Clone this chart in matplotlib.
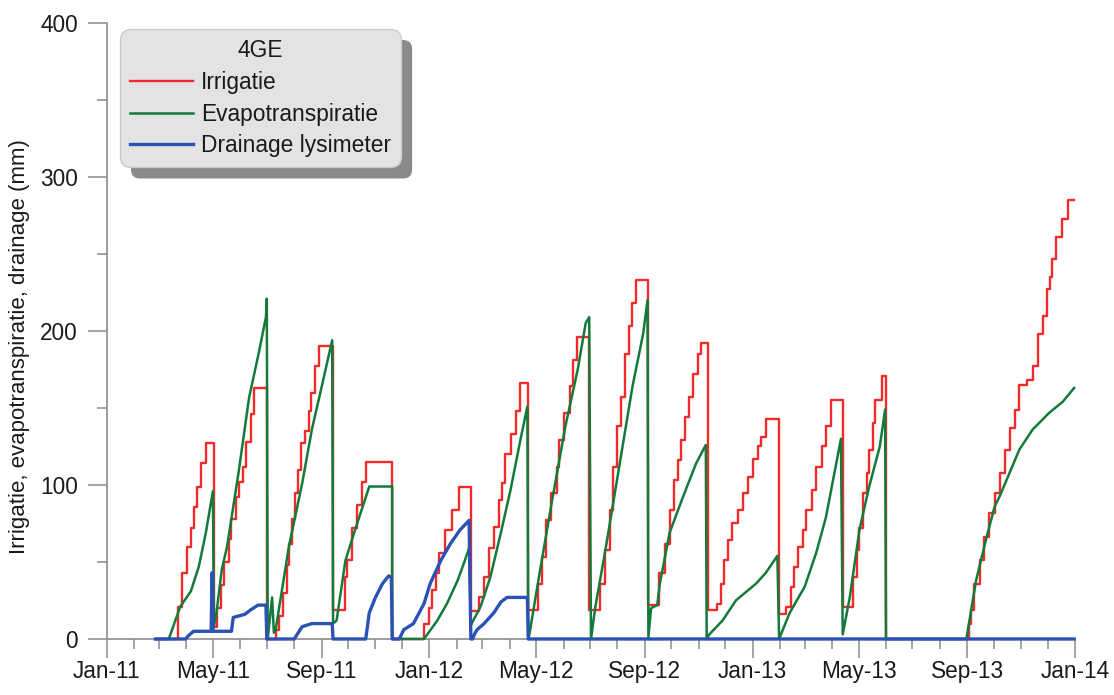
import pandas as pd
import matplotlib.pyplot as plt
import matplotlib.dates as mdates
from matplotlib.ticker import MultipleLocator
from matplotlib.patches import FancyBboxPatch
from matplotlib.transforms import IdentityTransform

plt.rcParams['font.family'] = ['Liberation Sans', 'DejaVu Sans']

# Cumulative irrigation (mm), applied in steps
irr_dates = [
    '2011-02-25', '2011-03-23', '2011-03-27', '2011-04-02', '2011-04-06', '2011-04-09', '2011-04-13', '2011-04-17', '2011-04-23',
    '2011-05-02', '2011-05-06', '2011-05-10', '2011-05-14', '2011-05-19', '2011-05-22', '2011-05-27', '2011-05-31', '2011-06-04', '2011-06-07', '2011-06-13', '2011-06-17', '2011-07-01',
    '2011-07-11', '2011-07-15', '2011-07-19', '2011-07-24', '2011-07-26', '2011-07-29', '2011-08-02', '2011-08-05', '2011-08-09', '2011-08-13', '2011-08-18', '2011-08-20', '2011-08-24', '2011-08-29',
    '2011-09-14', '2011-09-27', '2011-09-30', '2011-10-05', '2011-10-11', '2011-10-17', '2011-10-21', '2011-11-20',
    '2011-12-26', '2012-01-01', '2012-01-04', '2012-01-08', '2012-01-12', '2012-01-19', '2012-01-27', '2012-02-04',
    '2012-02-17', '2012-02-26', '2012-03-03', '2012-03-09', '2012-03-14', '2012-03-20', '2012-03-23', '2012-03-27', '2012-04-02', '2012-04-08', '2012-04-13',
    '2012-04-22', '2012-05-03', '2012-05-08', '2012-05-12', '2012-05-18', '2012-05-24', '2012-05-27', '2012-06-02', '2012-06-08', '2012-06-12', '2012-06-16',
    '2012-06-30', '2012-07-12', '2012-07-18', '2012-07-24', '2012-07-27', '2012-07-31', '2012-08-05', '2012-08-09', '2012-08-14', '2012-08-18', '2012-08-22',
    '2012-09-05', '2012-09-17', '2012-09-24', '2012-09-30', '2012-10-04', '2012-10-08', '2012-10-12', '2012-10-17', '2012-10-21', '2012-10-25', '2012-10-31', '2012-11-03',
    '2012-11-11', '2012-11-22', '2012-11-26', '2012-11-30', '2012-12-04', '2012-12-09', '2012-12-15', '2012-12-21', '2012-12-27', '2013-01-01', '2013-01-07', '2013-01-10', '2013-01-16',
    '2013-01-31', '2013-02-08', '2013-02-13', '2013-02-17', '2013-02-21', '2013-02-27', '2013-03-03', '2013-03-09', '2013-03-14', '2013-03-20', '2013-03-25', '2013-03-31',
    '2013-04-13', '2013-04-25', '2013-04-29', '2013-05-02', '2013-05-06', '2013-05-10', '2013-05-13', '2013-05-17', '2013-05-19', '2013-05-27', '2013-06-01',
    '2013-09-03', '2013-09-05', '2013-09-09', '2013-09-15', '2013-09-20', '2013-09-26', '2013-10-02', '2013-10-08', '2013-10-14', '2013-10-19', '2013-10-25', '2013-10-30',
    '2013-11-08', '2013-11-14', '2013-11-20', '2013-11-26', '2013-11-30', '2013-12-04', '2013-12-06', '2013-12-11', '2013-12-17', '2013-12-24', '2013-12-31',
]
irr_mm = [
    0, 21, 43, 60, 72, 86, 99, 114, 127,
    8, 20, 35, 50, 65, 78, 92, 102, 112, 128, 146, 163, 0,
    6, 15, 30, 48, 62, 78, 95, 110, 127, 135, 148, 160, 177, 190,
    19, 40, 51, 72, 87, 102, 115, 0,
    10, 20, 32, 43, 56, 71, 84, 99,
    18, 27, 40, 59, 73, 90, 101, 120, 133, 148, 166,
    19, 36, 53, 77, 95, 112, 129, 147, 164, 181, 196,
    19, 36, 58, 84, 112, 138, 157, 185, 203, 218, 233,
    22, 43, 62, 84, 103, 116, 129, 144, 157, 172, 185, 192,
    19, 23, 36, 51, 64, 75, 84, 95, 105, 117, 125, 131, 143,
    16, 21, 34, 47, 60, 71, 84, 97, 112, 125, 138, 155,
    21, 40, 58, 72, 95, 108, 123, 140, 155, 171, 0,
    10, 19, 36, 51, 66, 82, 95, 108, 123, 137, 149, 165,
    168, 177, 198, 210, 227, 235, 247, 261, 273, 285, 285,
]

# Cumulative evapotranspiration (mm)
et_dates = [
    '2011-02-25', '2011-03-12', '2011-03-25', '2011-04-06', '2011-04-15', '2011-04-23', '2011-04-28', '2011-05-01', '2011-05-02',
    '2011-05-05', '2011-05-11', '2011-05-17', '2011-05-30', '2011-06-11', '2011-06-22', '2011-06-30', '2011-07-01', '2011-07-02', '2011-07-07', '2011-07-09',
    '2011-07-11', '2011-07-26', '2011-08-10', '2011-08-21', '2011-09-02', '2011-09-13', '2011-09-14',
    '2011-09-18', '2011-09-28', '2011-10-09', '2011-10-25', '2011-11-20', '2011-11-20',
    '2011-12-26', '2012-01-10', '2012-01-21', '2012-02-02', '2012-02-09', '2012-02-15', '2012-02-17',
    '2012-02-28', '2012-03-10', '2012-03-22', '2012-04-02', '2012-04-13', '2012-04-21', '2012-04-22',
    '2012-04-23', '2012-05-04', '2012-05-19', '2012-06-03', '2012-06-17', '2012-06-26', '2012-06-30', '2012-07-02',
    '2012-07-07', '2012-07-19', '2012-08-03', '2012-08-18', '2012-08-30', '2012-09-04', '2012-09-05',
    '2012-09-08', '2012-09-15', '2012-09-18', '2012-09-29', '2012-10-14', '2012-10-29', '2012-11-09', '2012-11-10',
    '2012-11-13', '2012-11-28', '2012-12-13', '2013-01-05', '2013-01-16', '2013-01-29', '2013-01-31',
    '2013-02-12', '2013-03-01', '2013-03-14', '2013-03-25', '2013-04-05', '2013-04-11', '2013-04-13',
    '2013-04-21', '2013-05-02', '2013-05-13', '2013-05-25', '2013-05-31', '2013-06-01',
    '2013-08-31', '2013-09-11', '2013-09-22', '2013-10-02', '2013-10-08', '2013-10-19', '2013-10-30', '2013-11-14', '2013-12-03', '2013-12-18', '2013-12-31',
]
et_mm = [
    0, 0, 21, 31, 47, 69, 86, 96, 8,
    17, 45, 60, 108, 157, 186, 209, 221, 0, 27, 4,
    6, 60, 101, 136, 166, 194, 10,
    12, 51, 71, 99, 99, 0,
    0, 12, 23, 38, 49, 59, 9,
    21, 40, 69, 97, 129, 151, 0,
    2, 40, 90, 138, 175, 205, 209, 0,
    21, 60, 112, 164, 198, 220, 1,
    20, 22, 36, 69, 92, 114, 126, 0,
    3, 12, 25, 36, 43, 54, 0,
    17, 34, 56, 79, 112, 130, 3,
    27, 71, 99, 125, 149, 0,
    0, 38, 64, 86, 93, 108, 123, 136, 147, 154, 163,
]

# Cumulative drainage from the lysimeter (mm)
drain_dates = [
    '2011-02-25', '2011-03-31', '2011-04-03', '2011-04-09', '2011-04-29', '2011-04-30', '2011-05-01', '2011-05-22', '2011-05-24',
    '2011-06-06', '2011-06-13', '2011-06-21', '2011-06-30', '2011-07-01',
    '2011-08-01', '2011-08-10', '2011-08-21', '2011-09-13', '2011-09-14',
    '2011-10-21', '2011-10-25', '2011-11-01', '2011-11-09', '2011-11-16', '2011-11-19', '2011-11-20',
    '2011-11-28', '2011-12-03', '2011-12-14', '2011-12-26', '2012-01-02', '2012-01-14', '2012-01-25', '2012-02-05', '2012-02-15', '2012-02-17',
    '2012-02-19', '2012-02-21', '2012-02-24', '2012-03-03', '2012-03-14', '2012-03-22', '2012-03-29', '2012-04-21', '2012-04-22',
    '2013-12-31',
]
drain_mm = [
    0, 0, 2, 5, 5, 43, 5, 5, 14,
    16, 19, 22, 22, 0,
    0, 8, 10, 10, 0,
    0, 17, 27, 36, 41, 40, 0,
    0, 6, 10, 23, 36, 51, 62, 71, 77, 0,
    0, 3, 6, 10, 17, 24, 27, 27, 0,
    0,
]

fig = plt.figure(figsize=(11.14, 6.95), dpi=100)
ax = fig.add_axes([0.096, 0.0806, 0.869, 0.8863])

ax.plot(pd.to_datetime(irr_dates), irr_mm, color='#f22a2a', lw=1.7,
        drawstyle='steps-post', clip_on=False, zorder=3, label='Irrigatie')
ax.plot(pd.to_datetime(et_dates), et_mm, color='#137a3a', lw=1.8,
        clip_on=False, zorder=3.1, label='Evapotranspiratie')
ax.plot(pd.to_datetime(drain_dates), drain_mm, color='#2a52b4', lw=2.4,
        clip_on=False, zorder=3.2, label='Drainage lysimeter')

ax.set_xlim(pd.Timestamp('2011-01-01'), pd.Timestamp('2014-01-01'))
ax.set_ylim(0, 400)
ax.xaxis.set_major_locator(mdates.MonthLocator(bymonth=[1, 5, 9]))
ax.xaxis.set_minor_locator(mdates.MonthLocator())
ax.xaxis.set_major_formatter(mdates.DateFormatter('%b-%y'))
ax.yaxis.set_major_locator(MultipleLocator(100))
ax.yaxis.set_minor_locator(MultipleLocator(50))

ax.patch.set_visible(False)
for s in ['top', 'right']:
    ax.spines[s].set_visible(False)
for s in ['left', 'bottom']:
    ax.spines[s].set_color('#8c8c8c')
    ax.spines[s].set_linewidth(1.2)

ax.tick_params(which='major', length=14, width=1.1, color='#8c8c8c',
               labelsize=16.3, labelcolor='#1a1a1a')
ax.tick_params(which='minor', length=7, width=1.1, color='#8c8c8c')
ax.tick_params(axis='y', which='major', pad=7)
ax.tick_params(axis='x', which='major', pad=1)

ax.set_ylabel('Irrigatie, evapotranspiratie, drainage (mm)', fontsize=16, color='#1a1a1a')
ax.yaxis.set_label_coords(-0.0795, 0.474)

leg = ax.legend(title='4GE', loc='upper left',
                bbox_to_anchor=(120 / 1114, 1 - 29 / 695), bbox_transform=fig.transFigure,
                borderaxespad=0, fontsize=16.4, title_fontsize=16.4,
                handlelength=2.75, handletextpad=0.35, labelspacing=0.38, borderpad=0.45,
                fancybox=True, framealpha=1, facecolor='#e3e3e3', edgecolor='#cacaca')
leg.get_frame().set_boxstyle('round,pad=0,rounding_size=0.5')
leg.get_frame().set_linewidth(1.0)
for t in leg.get_texts():
    t.set_color('#1a1a1a')
leg.get_title().set_color('#1a1a1a')

# drop shadow behind the legend box
fig.canvas.draw()
bb = leg.get_frame().get_window_extent()
shadow = FancyBboxPatch((bb.x0 + 11, bb.y0 - 11), bb.width, bb.height,
                        boxstyle='round,pad=0,rounding_size=9',
                        transform=IdentityTransform(), facecolor='#8a8a8a',
                        edgecolor='none', zorder=4.9, clip_on=False)
ax.add_artist(shadow)

fig.savefig('out.png', dpi=100)
